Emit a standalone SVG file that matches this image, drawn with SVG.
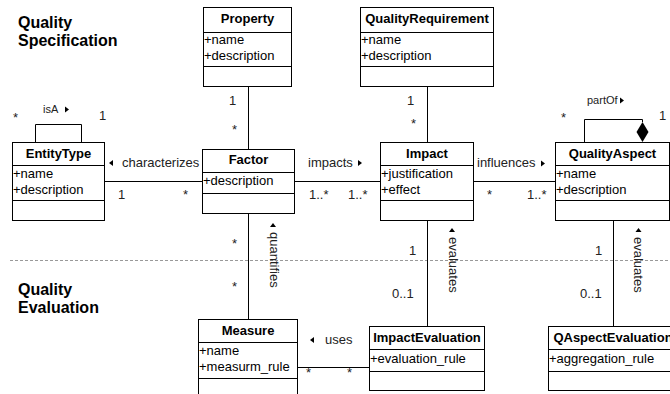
<svg xmlns="http://www.w3.org/2000/svg" width="670" height="394" viewBox="0 0 670 394">
<style>
text{font-family:"Liberation Sans",Arial,Helvetica,sans-serif;font-size:13px;fill:#000}
.t{font-weight:bold;font-size:16px}
.n{font-weight:bold;text-anchor:middle}
.l{fill:#222}
.s{fill:#222;font-size:11px}
.m{fill:#222}
.box{fill:#fff;stroke:#000;stroke-width:1}
.sep{stroke:#000;stroke-width:1}
.c{fill:none;stroke:#000;stroke-width:1}
.tri{fill:#000}
</style>
<rect width="670" height="394" fill="#fff"/>
<line x1="10" y1="260.5" x2="670" y2="260.5" stroke="#999" stroke-width="1" stroke-dasharray="3 2"/>
<g id="titles">
<text class="t" x="18" y="28">Quality</text>
<text class="t" x="18" y="46">Specification</text>
<text class="t" x="18" y="295">Quality</text>
<text class="t" x="18" y="313">Evaluation</text>
</g>
<g id="connectors">
<line class="c" x1="248.5" y1="86.5" x2="248.5" y2="149.5"/>
<line class="c" x1="427.5" y1="86.5" x2="427.5" y2="142.5"/>
<line class="c" x1="104.5" y1="181.5" x2="202.5" y2="181.5"/>
<line class="c" x1="294.5" y1="181.5" x2="380.5" y2="181.5"/>
<line class="c" x1="473.5" y1="181.5" x2="555.5" y2="181.5"/>
<line class="c" x1="248.5" y1="213.5" x2="248.5" y2="319.5"/>
<line class="c" x1="427.5" y1="220.5" x2="427.5" y2="326.5"/>
<line class="c" x1="613.5" y1="220.5" x2="613.5" y2="326.5"/>
<line class="c" x1="297.5" y1="367.5" x2="369.5" y2="367.5"/>
<path class="c" d="M35.5 142.5V124.5H81.5V142.5"/>
<path class="c" d="M584.5 142.5V119.5H642.5V122"/>
<polygon points="642.5,122 648.5,132 642.5,142 636.5,132" fill="#000"/>
<text class="s" x="43" y="113">isA</text>
<polygon class="tri" points="65,106.5 69,109.5 65,112.5"/>
<text class="m" x="13" y="122">*</text>
<text class="m" x="99" y="120">1</text>
<text class="s" x="587" y="104">partOf</text>
<polygon class="tri" points="620,97.5 624,100.5 620,103.5"/>
<text class="m" x="561" y="122">*</text>
<text class="m" x="659" y="120">1</text>
<polygon class="tri" points="113,160 109,163 113,166"/>
<text class="l" x="122" y="167">characterizes</text>
<text class="m" x="118" y="199">1</text>
<text class="m" x="183" y="199">*</text>
<text class="l" x="308" y="167">impacts</text>
<polygon class="tri" points="358,160 362,163 358,166"/>
<text class="m" x="309" y="199">1..*</text>
<text class="m" x="348" y="199">1..*</text>
<text class="l" x="477" y="167">influences</text>
<polygon class="tri" points="541,160.5 545,163.5 541,166.5"/>
<text class="m" x="487" y="199">*</text>
<text class="m" x="527" y="199">1..*</text>
<text class="m" x="229" y="105">1</text>
<text class="m" x="232" y="134">*</text>
<text class="m" x="407" y="105">1</text>
<text class="m" x="411" y="128">*</text>
<text class="m" x="232" y="248">*</text>
<text class="m" x="232" y="291">*</text>
<polygon class="tri" points="270,227 273,223 276,227"/>
<text class="l" x="270" y="232" transform="rotate(90 270 232)">quantifies</text>
<text class="m" x="409" y="255">1</text>
<text class="m" x="392" y="298">0..1</text>
<polygon class="tri" points="449,232 452,228 455,232"/>
<text class="l" x="448.5" y="237" transform="rotate(90 448.5 237)">evaluates</text>
<text class="m" x="595" y="255">1</text>
<text class="m" x="580" y="298">0..1</text>
<polygon class="tri" points="635.5,232 638.5,228 641.5,232"/>
<text class="l" x="633.5" y="237" transform="rotate(90 633.5 237)">evaluates</text>
<polygon class="tri" points="314,337 310,340 314,343"/>
<text class="l" x="325" y="344">uses</text>
<text class="m" x="306" y="377">*</text>
<text class="m" x="347" y="377">*</text>
</g>
<g id="Property">
<rect class="box" x="203.5" y="7.5" width="88" height="79"/>
<line class="sep" x1="203.5" y1="32.5" x2="291.5" y2="32.5"/>
<line class="sep" x1="203.5" y1="66.5" x2="291.5" y2="66.5"/>
<text class="n" x="247.5" y="23">Property</text>
<text x="204" y="44">+name</text>
<text x="204" y="60">+description</text>
</g>
<g id="QualityRequirement">
<rect class="box" x="360.5" y="7.5" width="133" height="79"/>
<line class="sep" x1="360.5" y1="32.5" x2="493.5" y2="32.5"/>
<line class="sep" x1="360.5" y1="66.5" x2="493.5" y2="66.5"/>
<text class="n" x="427" y="23">QualityRequirement</text>
<text x="361" y="44">+name</text>
<text x="361" y="60">+description</text>
</g>
<g id="EntityType">
<rect class="box" x="12.5" y="142.5" width="92" height="78"/>
<line class="sep" x1="12.5" y1="165.5" x2="104.5" y2="165.5"/>
<line class="sep" x1="12.5" y1="200.5" x2="104.5" y2="200.5"/>
<text class="n" x="58.5" y="158">EntityType</text>
<text x="13" y="178">+name</text>
<text x="13" y="194">+description</text>
</g>
<g id="Factor">
<rect class="box" x="202.5" y="149.5" width="92" height="64"/>
<line class="sep" x1="202.5" y1="172.5" x2="294.5" y2="172.5"/>
<line class="sep" x1="202.5" y1="193.5" x2="294.5" y2="193.5"/>
<text class="n" x="248.5" y="164">Factor</text>
<text x="203" y="185">+description</text>
</g>
<g id="Impact">
<rect class="box" x="380.5" y="142.5" width="93" height="78"/>
<line class="sep" x1="380.5" y1="165.5" x2="473.5" y2="165.5"/>
<line class="sep" x1="380.5" y1="200.5" x2="473.5" y2="200.5"/>
<text class="n" x="427" y="158">Impact</text>
<text x="381" y="178">+justification</text>
<text x="381" y="194">+effect</text>
</g>
<g id="QualityAspect">
<rect class="box" x="555.5" y="142.5" width="114" height="78"/>
<line class="sep" x1="555.5" y1="165.5" x2="669.5" y2="165.5"/>
<line class="sep" x1="555.5" y1="200.5" x2="669.5" y2="200.5"/>
<text class="n" x="612.5" y="158">QualityAspect</text>
<text x="556" y="178">+name</text>
<text x="556" y="194">+description</text>
</g>
<g id="Measure">
<rect class="box" x="198.5" y="319.5" width="99" height="82"/>
<line class="sep" x1="198.5" y1="342.5" x2="297.5" y2="342.5"/>
<line class="sep" x1="198.5" y1="378.5" x2="297.5" y2="378.5"/>
<text class="n" x="248" y="335">Measure</text>
<text x="199" y="355">+name</text>
<text x="199" y="371">+measurm_rule</text>
</g>
<g id="ImpactEvaluation">
<rect class="box" x="369.5" y="326.5" width="115" height="64"/>
<line class="sep" x1="369.5" y1="349.5" x2="484.5" y2="349.5"/>
<line class="sep" x1="369.5" y1="371.5" x2="484.5" y2="371.5"/>
<text class="n" x="427" y="342">ImpactEvaluation</text>
<text x="370" y="363">+evaluation_rule</text>
</g>
<g id="QAspectEvaluation">
<rect class="box" x="548.5" y="326.5" width="130" height="64"/>
<line class="sep" x1="548.5" y1="349.5" x2="678.5" y2="349.5"/>
<line class="sep" x1="548.5" y1="371.5" x2="678.5" y2="371.5"/>
<text class="n" x="613" y="342">QAspectEvaluation</text>
<text x="549" y="363">+aggregation_rule</text>
</g>
</svg>
